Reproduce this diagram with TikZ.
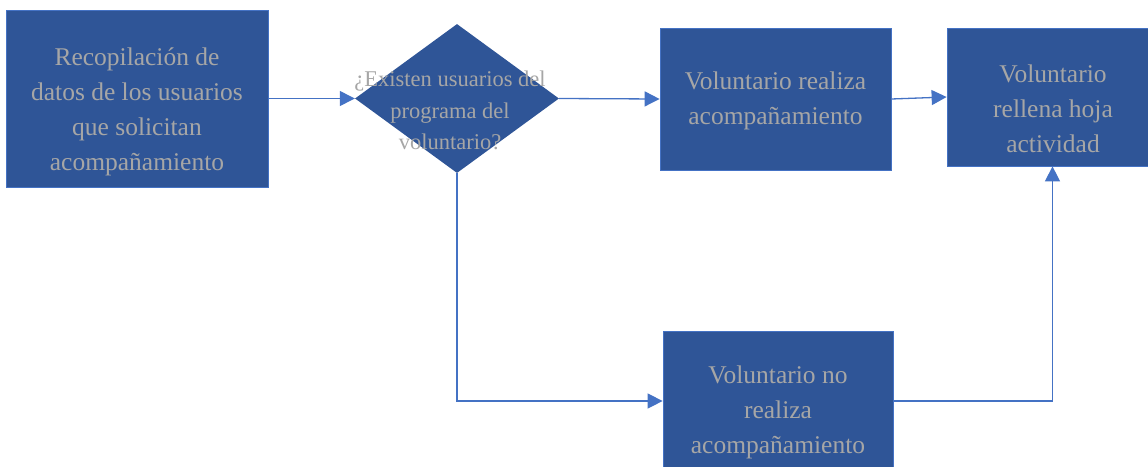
\documentclass[tikz,border=0pt]{standalone}
\usepackage{fontspec}
\setmainfont{Liberation Serif}
\usetikzlibrary{arrows.meta,shapes.geometric}
\definecolor{boxfill}{HTML}{2F5597}
\definecolor{boxedge}{HTML}{4472C4}
\definecolor{linkblue}{HTML}{4472C4}
\definecolor{txtgray}{HTML}{A6A6A6}
\begin{document}
\begin{tikzpicture}[x=1pt,y=-1pt,
  procbox/.style={draw=boxedge,line width=0.75pt,fill=boxfill,inner sep=0pt},
  decbox/.style={diamond,fill=boxfill,draw=none,inner sep=0pt},
  txt/.style={text=txtgray,align=center,inner sep=0pt,font=\fontsize{25.5}{35}\selectfont},
  dtxt/.style={text=txtgray,align=center,inner sep=0pt,font=\fontsize{22.5}{31.5}\selectfont},
  link/.style={draw=linkblue,line width=1.3pt,-{Triangle[length=15pt,width=15pt]}}]
\useasboundingbox (0,0) rectangle (1148,466);

% process boxes and decision
\node[procbox,minimum width=262pt,minimum height=177pt] (b1) at (137,98.5) {};
\node[decbox,minimum width=204pt,minimum height=149pt] (d) at (457,98.5) {};
\node[procbox,minimum width=231pt,minimum height=142pt] (b2) at (775.5,99) {};
\node[procbox,minimum width=211pt,minimum height=138pt] (b3) at (1052.5,97) {};
\node[procbox,minimum width=230pt,minimum height=140pt] (b4) at (778,401) {};

% labels
\node[txt] (t1) at (137,111.5) {Recopilación de\\datos de los usuarios\\que solicitan\\acompañamiento};
\node[dtxt] (td) at (450,110.5) {¿Existen usuarios del\\programa del\\voluntario?};
\node[txt] (t2) at (775.5,100.5) {Voluntario realiza\\acompañamiento};
\node[txt] (t3) at (1053,109) {Voluntario\\rellena hoja\\actividad};
\node[txt] (t4) at (778,412.5) {Voluntario no\\realiza\\acompañamiento};

% connectors
\draw[link] (b1.east) -- (d.west);
\draw[link] (d.east) -- (b2.west);
\draw[link] (b2.east) -- (b3.west);
\draw[link] (d.south) |- (b4.west);
\draw[link] (b4.east) -| (b3.south);
\end{tikzpicture}
\end{document}
